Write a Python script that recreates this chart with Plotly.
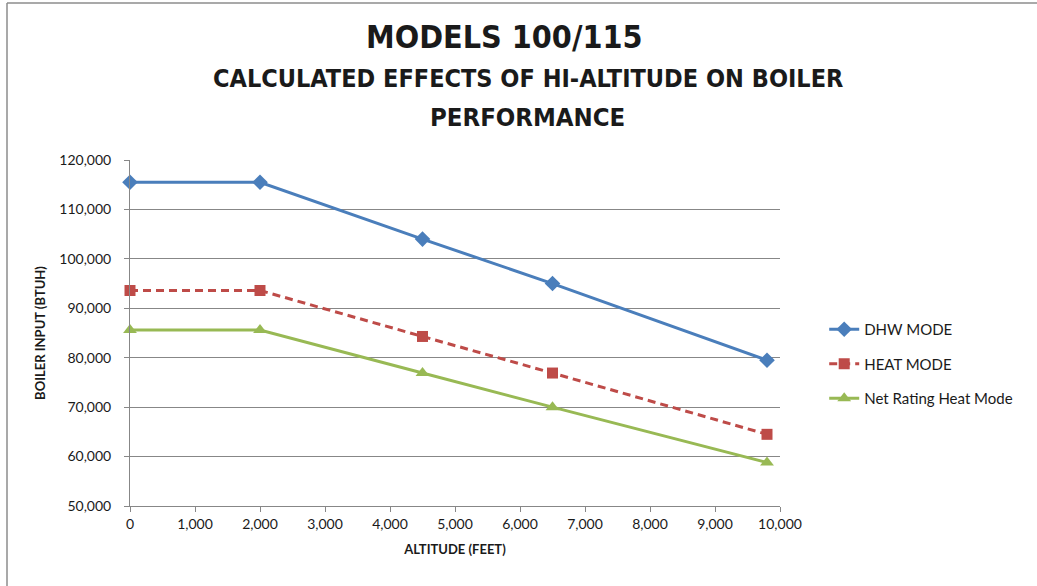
import plotly.graph_objects as go

# Altitude (feet) and boiler input (BTUH) for each operating mode
altitude = [0, 2000, 4500, 6500, 9800]
dhw_mode = [115500, 115500, 104000, 95000, 79500]
heat_mode = [93600, 93600, 84300, 76900, 64500]
net_rating_heat = [85600, 85600, 76900, 70000, 58800]

x_ticks = [0, 1000, 2000, 3000, 4000, 5000, 6000, 7000, 8000, 9000, 10000]
y_ticks = [50000, 60000, 70000, 80000, 90000, 100000, 110000, 120000]

FONT = "Lato, 'Open Sans', sans-serif"
HEAD_FONT = "'DejaVu Sans Condensed', 'DejaVu Sans', sans-serif"
GRID = "#878787"

fig = go.Figure()
fig.add_trace(go.Scatter(
    x=altitude, y=dhw_mode, name="DHW MODE", mode="lines+markers",
    legendgroup="dhw", cliponaxis=False,
    line=dict(color="#4A7EBB", width=3),
    marker=dict(symbol="diamond", size=12, color="#4A7EBB"),
))
fig.add_trace(go.Scatter(
    x=altitude, y=heat_mode, name="HEAT MODE", mode="lines+markers",
    legendgroup="heat", cliponaxis=False,
    line=dict(color="#BE4B48", width=3, dash="8px,5px"),
    marker=dict(symbol="square", size=11, color="#BE4B48"),
))
fig.add_trace(go.Scatter(
    x=altitude, y=net_rating_heat, name="Net Rating Heat Mode", mode="lines+markers",
    legendgroup="net", cliponaxis=False,
    line=dict(color="#98B954", width=3),
    marker=dict(symbol="triangle-up", size=12, color="#98B954"),
))

fig.update_layout(
    width=1037, height=586,
    margin=dict(l=130, r=257, t=160, b=80),
    paper_bgcolor="white", plot_bgcolor="white",
    font=dict(family=FONT, color="#1a1a1a", size=14),
    showlegend=True,
    legend=dict(
        x=1.068, y=(506 - 364) / 346, xanchor="left", yanchor="middle",
        font=dict(size=15, color="#1a1a1a"),
        tracegroupgap=12, itemwidth=30,
        bgcolor="rgba(0,0,0,0)",
    ),
    xaxis=dict(
        range=[0, 10000], tickvals=x_ticks, tickformat=",d",
        showgrid=False, zeroline=False,
        showline=True, linecolor=GRID, linewidth=1,
        ticks="outside", ticklen=5, tickcolor=GRID,
        tickfont=dict(size=14),
        title=dict(text="<b>ALTITUDE (FEET)</b>", font=dict(size=13), standoff=14),
    ),
    yaxis=dict(
        range=[50000, 120000], tickvals=y_ticks, tickformat=",d",
        showgrid=True, gridcolor=GRID, gridwidth=1,
        zeroline=False,
        showline=True, linecolor=GRID, linewidth=1,
        ticks="outside", ticklen=5, tickcolor=GRID,
        ticklabelstandoff=10,
        tickfont=dict(size=14),
        title=dict(text="<b>BOILER INPUT (BTUH)</b>", font=dict(size=13), standoff=10),
    ),
)

# Three-line heading
heading = [
    ("MODELS 100/115", 505, 37, 32),
    ("CALCULATED EFFECTS OF HI-ALTITUDE ON BOILER", 528, 78, 25),
    ("PERFORMANCE", 527, 117, 25.5),
]
for text, px, py, size in heading:
    fig.add_annotation(text=f"<b>{text}</b>", xref="paper", yref="paper",
                       x=(px - 130) / 650, y=(506 - py) / 346,
                       xanchor="center", yanchor="middle", showarrow=False,
                       font=dict(family=HEAD_FONT, size=size, color="#1a1a1a"))

# Chart-area frame (top and left edges)
left = (7 - 130) / 650
top = (506 - 3) / 346
bottom = (506 - 600) / 346
right = (1040 - 130) / 650
fig.add_shape(type="line", xref="paper", yref="paper", x0=left, x1=right, y0=top, y1=top,
              line=dict(color="#8c8c8c", width=1.5))
fig.add_shape(type="line", xref="paper", yref="paper", x0=left, x1=left, y0=bottom, y1=top,
              line=dict(color="#8c8c8c", width=1.5))

fig.write_html("out.html")
